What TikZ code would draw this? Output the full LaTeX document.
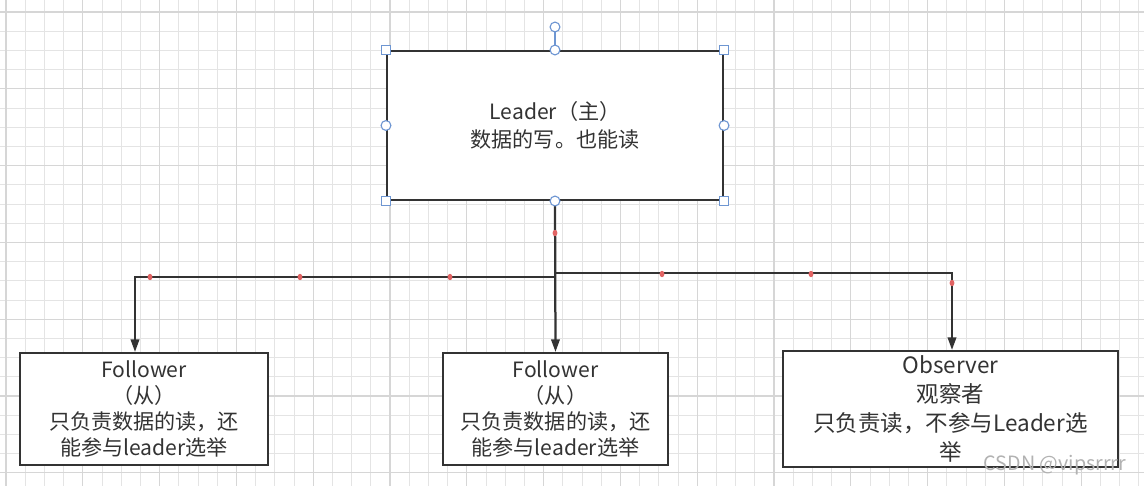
\documentclass[tikz,border=0pt]{standalone}
\usepackage{fontspec}
\setmainfont{Noto Sans CJK SC}
\usepackage{tikz}
\usetikzlibrary{arrows.meta,positioning,calc,shapes.geometric}
\definecolor{ink}{RGB}{51,51,51}
\definecolor{handle}{RGB}{110,150,210}
\definecolor{waypt}{RGB}{225,100,100}
\definecolor{gridln}{RGB}{228,228,228}
\definecolor{gridmaj}{RGB}{214,214,214}

\begin{document}
\begin{tikzpicture}[x=0.025cm,y=-0.025cm,font=\fontsize{15}{20}\selectfont,
  box/.style={draw=ink,line width=1.4pt,fill=white,text=ink,align=center,inner sep=0pt},
  arr/.style={draw=ink,line width=1.6pt,-{Triangle[length=9pt,width=6pt]}},
  sqh/.style={draw=handle,fill=white,line width=0.8pt,minimum size=6.5pt,inner sep=0pt},
  cih/.style={circle,draw=handle,fill=white,line width=0.8pt,minimum size=7pt,inner sep=0pt},
  dot/.style={ellipse,fill=waypt,minimum width=3.5pt,minimum height=4.5pt,inner sep=0pt}]
\useasboundingbox (0,0) rectangle (1144,486);
\fill[white] (0,0) rectangle (1144,486);

% background grid
\foreach \i in {0,...,59}
  \draw[gridln,line width=0.7pt] (6+19.2*\i,0) -- (6+19.2*\i,486);
\foreach \i in {0,...,25}
  \draw[gridln,line width=0.7pt] (0,12+19.2*\i) -- (1144,12+19.2*\i);
\foreach \i in {0,...,14}
  \draw[gridmaj,line width=0.9pt] (6+76.8*\i,0) -- (6+76.8*\i,486);
\foreach \i in {0,...,6}
  \draw[gridmaj,line width=0.9pt] (0,12+76.8*\i) -- (1144,12+76.8*\i);

% boxes
\node[box,minimum width=8.4cm,minimum height=3.725cm] (leader) at (555,125.5)
  {Leader（主）\\数据的写。也能读};
\node[box,minimum width=6.2cm,minimum height=2.8cm,
  font=\fontsize{15}{18.5}\selectfont] (f1) at (144,409)
  {Follower\\（从）\\只负责数据的读，还\\能参与leader选举};
\node[box,minimum width=5.625cm,minimum height=2.8cm,
  font=\fontsize{15}{18.5}\selectfont] (f2) at (555.5,409)
  {Follower\\（从）\\只负责数据的读，还\\能参与leader选举};
\node[box,minimum width=8.375cm,minimum height=2.9cm,
  font=\fontsize{16}{20.5}\selectfont] (obs) at (950.5,409)
  {Observer\\观察者\\只负责读，不参与Leader选\\举};

% connectors
\coordinate (busL) at (135,277);
\coordinate (busR) at (952,273);
\draw[arr] (leader.south) |- (busL) -- (busL |- f1.north);
\draw[arr] (leader.south) -- (f2.north);
\draw[arr] (leader.south) |- (busR) -- (busR |- obs.north);

% waypoints
\foreach \p in {(555,233),(150,277),(300,277),(450,277),(662,274),(811,274),(952,283)}
  \node[dot] at \p {};

% selection handles
\node[cih] (rot) at (555,27) {};
\draw[handle,line width=0.8pt] (rot) -- (leader.north);
\foreach \a in {north west,north east,south west,south east}
  \node[sqh] at (leader.\a) {};
\foreach \a in {north,south,west,east}
  \node[cih] at (leader.\a) {};

% watermark
\node[text=gray!60,font=\fontsize{14}{16}\selectfont] (wm) at (1055,465) {CSDN @vipsrrrr};
\end{tikzpicture}
\end{document}
